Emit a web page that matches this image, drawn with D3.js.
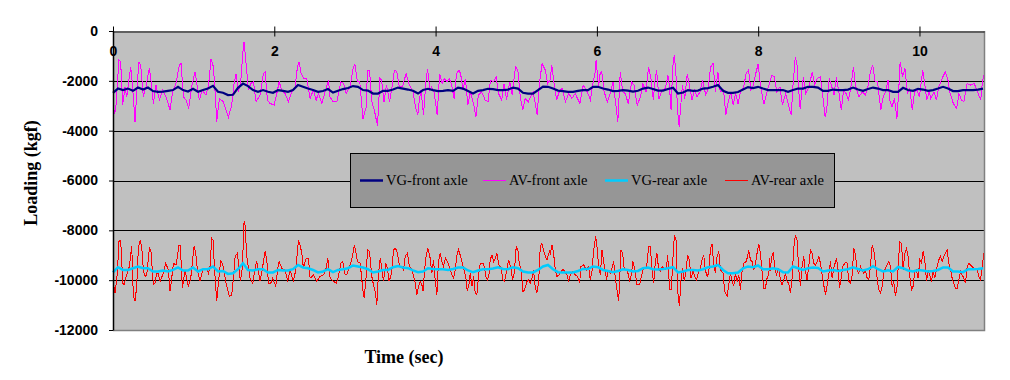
<!doctype html>
<html>
<head>
<meta charset="utf-8">
<script src="https://cdnjs.cloudflare.com/ajax/libs/d3/7.8.5/d3.min.js"></script>
<style>
  body{ margin:0; background:#fff; }
  svg{ display:block; }
  .tick text{ font-family:"Liberation Sans", Arial, sans-serif; font-weight:bold; font-size:14px; fill:#000; }
  .title{ font-family:"Liberation Serif", "Times New Roman", serif; font-weight:bold; font-size:18px; fill:#000; }
  .legend text{ font-family:"Liberation Serif", "Times New Roman", serif; font-size:14.5px; fill:#000; }
</style>
</head>
<body>
<svg id="chart" width="1010" height="380"></svg>
<script>
// sample step (sec) of the VG curves
var vgStep = 0.062;

var vgFront = [-2480,-2310,-2370,-2310,-2400,-2270,-2350,-2270,-2410,-2440,-2430,-2400,-2370,-2240,-2370,-2430,-2320,-2440,-2370,-2310,-2200,-2440,-2480,-2570,-2560,-2280,-2110,-2210,-2370,-2440,-2370,-2440,-2480,-2370,-2400,-2440,-2370,-2170,-2240,-2310,-2370,-2440,-2410,-2330,
  -2470,-2400,-2330,-2290,-2210,-2240,-2370,-2390,-2510,-2510,-2400,-2400,-2350,-2270,-2310,-2350,-2400,-2510,-2370,-2320,-2370,-2410,-2400,-2370,-2400,-2270,-2310,-2410,-2510,-2400,-2370,-2320,-2330,-2370,-2370,-2350,-2270,-2310,-2480,-2510,-2510,-2370,-2230,-2240,
  -2310,-2390,-2410,-2440,-2440,-2400,-2370,-2370,-2240,-2240,-2310,-2350,-2410,-2400,-2370,-2390,-2430,-2400,-2310,-2270,-2330,-2390,-2390,-2330,-2280,-2510,-2470,-2370,-2400,-2390,-2310,-2290,-2240,-2170,-2400,-2480,-2480,-2450,-2350,-2250,-2290,-2240,-2310,-2370,
  -2370,-2370,-2370,-2440,-2370,-2310,-2310,-2240,-2240,-2270,-2400,-2400,-2350,-2370,-2370,-2350,-2270,-2350,-2400,-2330,-2270,-2310,-2370,-2370,-2440,-2440,-2280,-2370,-2400,-2320,-2350,-2400,-2370,-2310,-2240,-2310,-2410,-2410,-2370,-2370,-2370,-2350,-2310];

var vgRear = [-9690,-9480,-9590,-9590,-9520,-9450,-9520,-9520,-9650,-9650,-9610,-9650,-9590,-9490,-9610,-9610,-9490,-9650,-9560,-9560,-9450,-9650,-9630,-9750,-9720,-9560,-9320,-9590,-9610,-9560,-9560,-9690,-9690,-9590,-9610,-9610,-9560,-9390,-9490,-9520,-9590,-9690,-9650,-9560,
  -9680,-9590,-9560,-9520,-9410,-9450,-9490,-9560,-9690,-9650,-9590,-9590,-9480,-9430,-9490,-9520,-9610,-9680,-9650,-9520,-9550,-9560,-9560,-9590,-9550,-9490,-9490,-9610,-9680,-9610,-9560,-9560,-9530,-9480,-9550,-9560,-9480,-9520,-9650,-9690,-9690,-9590,-9450,-9390,
  -9560,-9680,-9690,-9690,-9690,-9630,-9550,-9550,-9450,-9480,-9590,-9630,-9680,-9630,-9560,-9590,-9650,-9630,-9520,-9490,-9560,-9570,-9550,-9520,-9480,-9690,-9650,-9590,-9590,-9610,-9560,-9480,-9450,-9390,-9590,-9720,-9720,-9690,-9530,-9450,-9480,-9410,-9560,-9560,
  -9520,-9560,-9680,-9690,-9450,-9520,-9590,-9520,-9490,-9510,-9650,-9610,-9590,-9630,-9590,-9560,-9480,-9550,-9610,-9560,-9440,-9560,-9650,-9600,-9650,-9470,-9520,-9610,-9650,-9590,-9610,-9650,-9630,-9590,-9490,-9490,-9650,-9650,-9680,-9560,-9560,-9550,-9520];

var avFrontT = [0,0.017,0.033,0.074,0.095,0.12,0.149,0.17,0.219,0.24,0.273,0.302,0.323,0.343,0.376,0.409,0.451,0.48,0.5,0.533,0.575,0.616,0.666,0.707,0.74,0.78,0.823,0.844,0.873,0.906,0.939,0.976,1.017,1.046,1.071,1.104,1.154,1.187,1.216,1.245,1.27,1.286,1.319,1.369,1.431,1.472,1.501,1.526,1.555,1.584,1.609,1.625,1.646,1.679,1.708,1.741,1.774,1.824,1.865,1.886,1.915,1.948,1.998,2.031,2.06,2.093,2.134,2.175,2.217,2.258,2.287,2.308,2.333,2.37,2.403,2.444,2.485,2.519,2.547,2.589,2.63,2.672,
  2.69,2.73,2.775,2.825,2.86,2.89,2.94,2.98,3.0,3.03,3.06,3.1,3.14,3.155,3.18,3.21,3.24,3.28,3.31,3.33,3.36,3.39,3.43,3.46,3.49,3.52,3.55,3.59,3.634,3.67,3.72,3.75,3.78,3.8,3.82,3.85,3.88,3.9,3.93,3.95,3.98,4.02,4.05,4.08,4.11,4.14,4.17,4.2,4.23,4.26,4.288,4.31,4.34,4.37,4.4,4.43,4.47,4.5,4.53,4.57,4.615,4.65,4.68,4.72,4.75,4.78,4.82,4.85,4.88,4.92,4.95,4.99,5.02,5.05,5.08,5.11,5.15,5.18,5.21,5.26,5.285,5.32,5.36,5.39,5.42,
  5.44,5.47,5.5,5.54,5.57,5.61,5.65,5.69,5.73,5.79,5.83,5.88,5.92,5.95,5.98,5.99,6.02,6.04,6.06,6.09,6.13,6.17,6.2,6.23,6.26,6.29,6.32,6.35,6.39,6.43,6.46,6.5,6.54,6.57,6.61,6.64,6.67,6.7,6.72,6.74,6.77,6.81,6.85,6.88,6.9,6.92,6.94,6.96,6.98,7.0,7.02,7.06,7.09,7.12,7.15,7.18,7.21,7.24,7.28,7.31,7.35,7.38,7.41,7.44,7.47,7.5,7.53,7.57,7.6,7.62,7.66,7.69,7.72,7.75,7.78,7.82,7.85,7.88,7.91,7.94,7.97,8.0,8.03,8.07,
  8.12,8.17,8.2,8.23,8.27,8.3,8.34,8.38,8.41,8.43,8.46,8.48,8.5,8.52,8.56,8.59,8.63,8.67,8.7,8.73,8.77,8.8,8.83,8.85,8.88,8.92,8.94,8.97,9.0,9.03,9.06,9.09,9.12,9.15,9.18,9.21,9.25,9.29,9.33,9.36,9.39,9.42,9.45,9.48,9.52,9.55,9.58,9.61,9.63,9.66,9.69,9.72,9.74,9.76,9.79,9.82,9.85,9.88,9.91,9.94,9.97,10.0,10.04,10.07,10.09,10.12,10.14,10.18,10.21,10.24,10.28,10.32,10.35,10.38,10.42,10.46,10.49,10.52,10.55,10.59,10.63,10.68,10.71,10.76,10.78,10.8];
var avFront = [-2770,-3310,-3170,-1170,-1240,-2970,-2240,-2640,-1440,-2110,-3640,-2030,-1240,-1370,-2640,-2240,-1480,-2240,-2910,-2170,-2770,-2370,-2710,-3170,-2440,-2110,-1370,-1310,-2640,-2770,-3110,-2240,-1640,-2240,-2770,-2370,-2570,-2110,-1110,-1440,-2640,-3640,-2710,-2840,-3470,-2970,-2110,-1710,-2440,-2040,-910,-440,-1170,-2370,-2110,-2040,-2840,-2570,-1710,-1640,-2770,-2910,-2970,-2510,-2040,-2370,-2510,-2840,-2440,-2240,-1440,-1240,-1710,-1910,-1910,-2710,-2370,-2770,-2510,-2910,-2440,-1970,
  -2640,-2840,-2840,-2040,-2110,-2510,-2240,-1440,-1350,-2040,-2040,-3530,-3040,-1570,-1570,-2840,-3170,-3810,-1910,-1970,-2840,-2170,-2840,-2240,-1570,-1640,-2240,-2240,-1710,-2110,-2440,-3040,-3370,-2710,-2370,-3370,-2040,-1510,-2370,-2240,-2440,-3370,-1710,-2110,-1910,-2040,-1910,-2170,-2730,-1710,-1570,-1710,-2370,-1910,-2970,-2440,-2910,-3440,-2570,-2440,-2770,-2840,-1970,-2040,-1840,-2510,-2770,-2110,-2770,-2040,-2570,-1440,-1570,-2640,-3170,-2710,-2840,-2640,-2440,-3370,-2170,-1310,-1570,-2110,-1970,
  -1370,-2110,-2770,-2370,-2310,-2840,-2510,-2710,-2510,-2910,-2170,-2440,-2770,-2110,-1640,-1170,-2240,-1710,-1640,-2440,-2840,-2440,-2040,-2840,-3640,-1640,-2440,-2510,-2910,-2040,-2170,-2970,-2640,-2110,-2440,-1440,-1910,-2770,-2040,-1570,-2710,-2370,-2310,-1770,-2240,-3170,-1440,-970,-1710,-3170,-3840,-2170,-2710,-1710,-2240,-2770,-2370,-2640,-2440,-1970,-2570,-2310,-1440,-1310,-2440,-1640,-2440,-2370,-3370,-2970,-2440,-2970,-2510,-2910,-2440,-2240,-1710,-1570,-2370,-2170,-1710,-1310,-2240,-2940,
  -2310,-1770,-1840,-2440,-2240,-2970,-2510,-3040,-3370,-2240,-1040,-1310,-2240,-3110,-1840,-2510,-2240,-1640,-2170,-1910,-1840,-2570,-3440,-3170,-1910,-2310,-2570,-1840,-2440,-3170,-2370,-2510,-2770,-2240,-1440,-2240,-2640,-2440,-2570,-2240,-1640,-1370,-2040,-2040,-3170,-2640,-2440,-1970,-2770,-3040,-2710,-3510,-2570,-1240,-1840,-1510,-2510,-2310,-3170,-2440,-2370,-2640,-1570,-2240,-2770,-2440,-2710,-2440,-2770,-2240,-1910,-1640,-1910,-2510,-2910,-3110,-2510,-2770,-2840,-2110,-2170,-2110,-2370,-2770,-2040,-1770];

var avRearT = [0,0.025,0.037,0.054,0.074,0.095,0.108,0.12,0.136,0.157,0.203,0.232,0.24,0.252,0.273,0.294,0.314,0.335,0.356,0.376,0.397,0.418,0.451,0.471,0.5,0.521,0.542,0.562,0.583,0.624,0.653,0.687,0.707,0.728,0.749,0.782,0.819,0.835,0.86,0.893,0.935,0.964,1.005,1.026,1.046,1.079,1.112,1.154,1.183,1.203,1.224,1.241,1.257,1.286,1.311,1.336,1.361,1.402,1.443,1.472,1.493,1.514,1.543,1.563,1.58,1.605,1.625,1.638,1.658,1.7,1.733,1.762,1.782,1.803,1.824,1.853,1.886,1.907,1.927,1.956,1.981,2.018,2.043,2.06,2.093,2.134,2.167,2.196,2.237,2.266,2.3,2.32,2.341,2.361,2.395,2.424,2.444,2.486,2.527,2.568,2.61,2.643,2.663,
  2.692,2.734,2.767,2.796,2.825,2.849,2.878,2.899,2.94,2.969,2.994,3.015,3.031,3.065,3.098,3.114,3.139,3.155,3.18,3.209,3.23,3.251,3.271,3.292,3.313,3.333,3.354,3.383,3.404,3.42,3.437,3.457,3.478,3.503,3.528,3.552,3.577,3.602,3.623,3.651,3.676,3.709,3.747,3.767,3.788,3.809,3.83,3.846,3.863,3.884,3.904,3.933,3.954,3.974,3.995,4.016,4.036,4.057,4.082,4.098,4.123,4.148,4.173,4.202,4.223,4.243,4.264,4.284,4.305,4.347,4.376,4.392,4.413,4.43,4.45,4.471,4.492,4.512,4.533,4.554,4.595,4.624,4.644,4.661,4.677,4.698,4.719,4.74,4.76,4.789,4.81,4.835,4.855,4.876,4.905,4.934,4.955,4.975,5.0,5.021,5.037,5.062,5.083,5.103,5.132,5.153,5.174,5.194,5.215,5.236,5.256,5.277,5.298,5.318,5.347,5.38,5.413,
  5.422,5.443,5.463,5.484,5.505,5.529,5.558,5.579,5.6,5.629,5.649,5.67,5.699,5.732,5.761,5.786,5.803,5.836,5.869,5.897,5.918,5.939,5.96,5.985,6.001,6.022,6.043,6.063,6.084,6.104,6.121,6.138,6.166,6.187,6.208,6.228,6.249,6.27,6.282,6.299,6.319,6.34,6.365,6.385,6.406,6.427,6.447,6.472,6.497,6.53,6.551,6.571,6.596,6.617,6.642,6.663,6.683,6.704,6.725,6.745,6.766,6.787,6.812,6.836,6.861,6.878,6.902,6.923,6.944,6.961,6.981,7.002,7.023,7.043,7.064,7.085,7.105,7.126,7.147,7.167,7.192,7.213,7.234,7.263,7.283,7.304,7.325,7.345,7.366,7.387,7.408,7.428,7.449,7.47,7.49,7.511,7.532,7.565,7.585,7.614,7.635,7.656,7.676,7.697,7.718,7.738,7.759,7.78,7.8,7.821,7.854,7.883,7.904,7.924,7.945,7.966,7.986,8.007,8.028,8.048,8.069,8.09,8.11,8.131,8.144,
  8.151,8.164,8.185,8.205,8.226,8.255,8.276,8.296,8.317,8.337,8.358,8.379,8.4,8.42,8.441,8.462,8.482,8.503,8.524,8.544,8.565,8.586,8.606,8.627,8.648,8.669,8.689,8.71,8.731,8.751,8.772,8.793,8.813,8.834,8.855,8.875,8.896,8.917,8.937,8.97,8.987,9.008,9.028,9.049,9.082,9.103,9.123,9.144,9.165,9.185,9.206,9.227,9.247,9.268,9.289,9.309,9.33,9.351,9.371,9.392,9.413,9.433,9.454,9.475,9.495,9.516,9.537,9.557,9.578,9.599,9.619,9.64,9.661,9.681,9.702,9.723,9.743,9.756,9.777,9.797,9.818,9.839,9.859,9.88,9.901,9.921,9.942,9.963,9.983,10.004,10.025,10.045,10.066,10.087,10.107,10.128,10.149,10.169,10.19,10.219,10.24,10.261,10.281,10.302,10.323,10.343,10.364,10.385,10.405,10.426,10.447,10.467,10.488,10.509,10.529,10.55,10.571,10.591,10.612,10.633,10.674,10.716,10.736,10.757,10.778,10.798];
var avRear = [-10050,-10520,-10190,-9720,-8450,-8390,-9190,-10120,-10190,-9920,-9450,-8650,-9320,-10650,-10850,-10250,-8720,-8410,-8650,-9590,-9850,-9790,-8720,-8850,-10190,-10120,-9720,-9720,-10050,-9720,-9320,-9590,-10450,-9920,-9320,-9390,-8590,-8590,-10320,-9590,-10250,-9920,-8650,-8920,-9590,-10050,-9590,-9520,-9720,-9450,-8320,-8390,-9450,-10850,-9990,-9190,-9390,-10120,-10650,-10590,-9920,-9050,-8920,-9590,-10050,-9450,-7650,-7790,-9050,-9920,-10120,-9520,-9250,-9650,-10050,-9520,-8850,-9190,-10120,-10120,-9920,-10250,-9520,-9250,-9520,-9590,-10050,-9590,-10050,-9590,-8390,-8590,-8920,-9520,-9120,-9120,-9920,-9790,-10050,-9850,-9790,-9520,-9120,
  -9920,-10050,-10120,-9850,-9320,-9250,-9790,-9790,-9390,-9050,-8590,-8920,-9250,-9320,-10390,-10720,-9850,-8790,-8850,-9850,-10190,-10450,-10990,-9720,-9120,-9520,-10050,-9320,-9520,-10050,-9920,-9650,-8790,-8720,-8920,-9450,-9450,-9590,-9050,-8920,-9450,-9590,-10120,-10590,-10250,-10050,-10190,-10450,-9590,-8990,-8720,-9120,-9720,-9190,-9990,-10590,-9250,-8920,-9320,-9450,-9120,-9250,-9520,-9790,-9920,-9590,-8990,-8790,-8990,-9520,-9920,-10450,-10190,-9720,-10250,-9850,-10520,-10590,-9790,-9320,-9320,-9850,-9990,-9790,-9190,-8990,-9250,-9120,-8920,-9450,-9450,-9990,-10050,-9720,-9190,-9520,-9990,-9720,-8650,-8790,-9320,-9590,-10450,-10390,-10050,-9990,-10120,-9920,-9590,-10320,-10520,-10120,-8650,-8520,-8920,-9190,-8850,
  -8920,-8590,-8920,-9590,-9850,-9790,-9650,-9560,-9650,-9790,-10050,-9790,-9650,-9790,-9850,-10120,-9450,-9390,-9590,-9450,-9990,-9650,-8790,-8230,-8650,-9450,-9790,-8790,-9250,-9650,-9990,-9590,-9720,-9520,-9250,-9920,-10390,-10850,-9990,-8790,-8920,-9590,-9590,-9720,-10050,-9790,-9250,-9590,-10190,-10190,-9850,-9590,-9520,-9450,-8650,-8650,-9590,-10120,-9250,-8920,-9590,-9650,-9450,-9590,-9520,-8990,-10390,-10390,-9050,-8190,-8390,-10450,-11030,-9990,-9520,-10050,-9590,-8990,-9190,-9920,-9650,-9850,-9990,-9650,-9520,-9190,-8990,-9590,-9850,-9720,-8720,-8550,-9390,-9720,-9050,-8850,-9590,-9720,-10450,-10650,-10190,-9720,-9990,-10250,-9720,-10050,-9790,-10390,-9650,-9320,-9250,-8790,-9190,-9250,-9590,-9320,-8920,-8550,-8920,-9650,-10320,-10320,-9920,-9790,-9120,
  -9650,-9120,-8890,-9450,-9790,-9520,-9990,-10190,-9990,-9720,-10050,-10120,-10520,-9920,-8720,-8190,-8390,-9590,-10250,-9450,-9050,-9650,-9990,-9450,-8790,-8920,-9320,-9390,-9250,-9050,-9320,-9790,-10190,-10590,-10190,-9790,-9250,-9920,-9520,-9120,-9450,-10320,-9920,-9450,-9290,-9320,-10050,-10120,-9790,-8720,-8990,-9590,-9720,-9450,-9590,-9720,-9590,-9920,-9990,-9450,-8590,-8790,-9320,-9920,-10390,-10520,-10250,-9720,-9520,-9390,-9250,-9450,-10250,-10050,-10650,-10250,-9050,-8450,-8520,-9590,-8920,-8720,-9050,-9850,-10390,-10250,-9650,-9590,-9920,-9190,-9320,-8850,-9190,-10050,-9590,-9790,-10050,-9650,-9920,-9450,-9190,-9050,-9250,-9050,-8920,-8790,-9320,-9590,-9920,-10120,-10320,-10320,-9990,-9650,-9790,-9920,-10120,-9450,-9320,-9390,-9520,-9590,-9850,-9990,-9450,-8920];

var xTicks = [0, 2, 4, 6, 8, 10];
var yTicks = [0, -2000, -4000, -6000, -8000, -10000, -12000];
var seriesNames = ["VG-front axle", "AV-front axle", "VG-rear axle", "AV-rear axle"];
var seriesColors = ["#000080", "#FF00FF", "#00CCFF", "#FF0000"];

// plot box
var plotLeft = 113, plotTop = 31, plotRight = 984, plotBottom = 330;

var x = d3.scaleLinear().domain([0, 10.8]).range([plotLeft, plotRight]);
var y = d3.scaleLinear().domain([-12000, 0]).range([plotBottom, plotTop]);

var svg = d3.select("#chart");

svg.append("rect")
  .attr("x", plotLeft).attr("y", plotTop)
  .attr("width", plotRight - plotLeft).attr("height", plotBottom - plotTop)
  .attr("fill", "#C0C0C0");

// gridlines
svg.append("g").selectAll("line")
  .data(yTicks.slice(1, -1))
  .enter().append("line")
  .attr("x1", plotLeft).attr("x2", plotRight)
  .attr("y1", function(d){ return Math.round(y(d)) + 0.5; })
  .attr("y2", function(d){ return Math.round(y(d)) + 0.5; })
  .attr("stroke", "#000").attr("stroke-width", 1);

var lineT = function(ts){
  return d3.line()
    .x(function(d, i){ return x(ts[i]); })
    .y(function(d){ return y(d); });
};
var lineStep = d3.line()
  .x(function(d, i){ return x(i * vgStep); })
  .y(function(d){ return y(d); });

svg.append("path").attr("d", lineT(avFrontT)(avFront))
  .attr("fill", "none").attr("stroke", seriesColors[1]).attr("stroke-width", 1)
  .style("shape-rendering", "crispEdges");
svg.append("path").attr("d", lineStep(vgFront))
  .attr("fill", "none").attr("stroke", seriesColors[0]).attr("stroke-width", 2.2);
svg.append("path").attr("d", lineT(avRearT)(avRear))
  .attr("fill", "none").attr("stroke", seriesColors[3]).attr("stroke-width", 1)
  .style("shape-rendering", "crispEdges");
svg.append("path").attr("d", lineStep(vgRear))
  .attr("fill", "none").attr("stroke", seriesColors[2]).attr("stroke-width", 2.5);

// right / bottom frame
svg.append("path")
  .attr("d", "M" + (plotRight + 0.5) + "," + plotTop + "V" + (plotBottom + 0.5) + "H" + plotLeft)
  .attr("fill", "none").attr("stroke", "#808080").attr("stroke-width", 1.5);

// y axis
var yAxis = svg.append("g")
  .attr("transform", "translate(" + plotLeft + ",0)")
  .call(d3.axisLeft(y).tickValues(yTicks).tickSize(4).tickSizeOuter(0).tickPadding(11)
    .tickFormat(function(d){ return String(d); }));
yAxis.select(".domain").attr("stroke", "#000").attr("stroke-width", 1.5);

// x axis on top, labels inside the plot
var xAxis = svg.append("g")
  .attr("transform", "translate(0," + (plotTop + 0.5) + ")")
  .call(d3.axisTop(x).tickValues(xTicks).tickSize(5).tickSizeOuter(0)
    .tickFormat(function(d){ return String(d); }));
xAxis.select(".domain").attr("stroke", "#000").attr("stroke-width", 1.2);
xAxis.selectAll(".tick line").attr("y1", -5).attr("y2", 5);
xAxis.selectAll(".tick text").attr("y", 20).attr("dy", "0.32em");

// legend
var legendX = [360, 483, 605, 725];
var legend = svg.append("g").attr("class", "legend");
legend.append("rect")
  .attr("x", 350.5).attr("y", 153.5).attr("width", 484).attr("height", 54)
  .attr("fill", "#969696").attr("stroke", "#000").attr("stroke-width", 1);
seriesNames.forEach(function(name, i){
  legend.append("line")
    .attr("x1", legendX[i]).attr("x2", legendX[i] + 23)
    .attr("y1", 180.5).attr("y2", 180.5)
    .attr("stroke", seriesColors[i])
    .attr("stroke-width", (i % 2 == 0) ? 2.5 : 1);
  legend.append("text")
    .attr("x", legendX[i] + 26).attr("y", 185)
    .text(name);
});

// axis titles
svg.append("text").attr("class", "title")
  .attr("transform", "translate(37,173) rotate(-90)")
  .attr("text-anchor", "middle")
  .text("Loading (kgf)");
svg.append("text").attr("class", "title")
  .attr("x", 404).attr("y", 363)
  .attr("text-anchor", "middle")
  .text("Time (sec)");
</script>
</body>
</html>
